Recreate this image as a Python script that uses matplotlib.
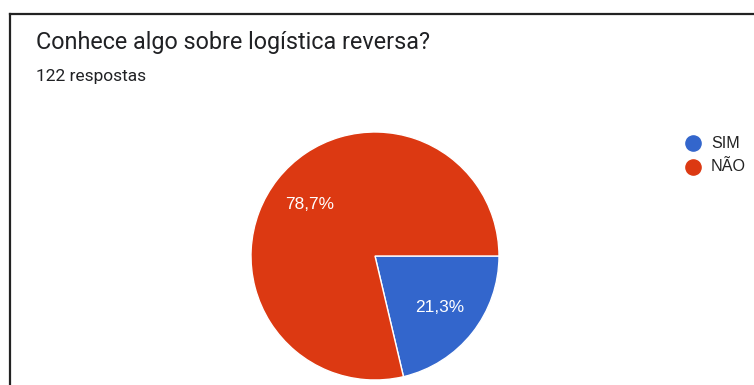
import matplotlib
matplotlib.use("Agg")
import matplotlib.pyplot as plt
from matplotlib.lines import Line2D

# Survey answers
title = "Conhece algo sobre logística reversa?"
subtitle = "122 respostas"
categories = ["SIM", "NÃO"]
counts = [26, 96]
colors = ["#3366CC", "#DC3912"]

W, H = 754, 385
fig = plt.figure(figsize=(W / 100, H / 100), dpi=100)
ax = fig.add_axes([0, 0, 1, 1])

wedges, texts, autotexts = ax.pie(
    counts,
    colors=colors,
    startangle=0,
    counterclock=False,
    center=(375, H - 256),
    radius=124,
    autopct=lambda p: f"{p:.1f}%".replace(".", ","),
    pctdistance=0.67,
    wedgeprops=dict(edgecolor="white", linewidth=1),
    textprops=dict(color="white", fontsize=12.4, family="Liberation Sans"),
)
ax.set_xlim(0, W)
ax.set_ylim(0, H)
ax.set_aspect("auto")
ax.axis("off")

# Card border (top and left edges)
ax.add_line(Line2D([10, W], [H - 14, H - 14], color="#222222", lw=1.6))
ax.add_line(Line2D([10, 10], [H - 14, 0], color="#222222", lw=1.6))

ax.text(36, H - 42, title, fontsize=16.8, family="Roboto", color="#202124",
        va="center", ha="left")
ax.text(36, H - 77, subtitle, fontsize=12.5, family="Roboto", color="#202124",
        va="center", ha="left")

# Legend
for i, (cat, col) in enumerate(zip(categories, colors)):
    y = H - (143 + 23.5 * i)
    ax.scatter([693], [y], s=120, color=col, zorder=3)
    ax.text(711, y, cat, fontsize=11.6, family="Liberation Sans", color="#222222",
            va="center", ha="left")

fig.savefig("out.png", dpi=100)
